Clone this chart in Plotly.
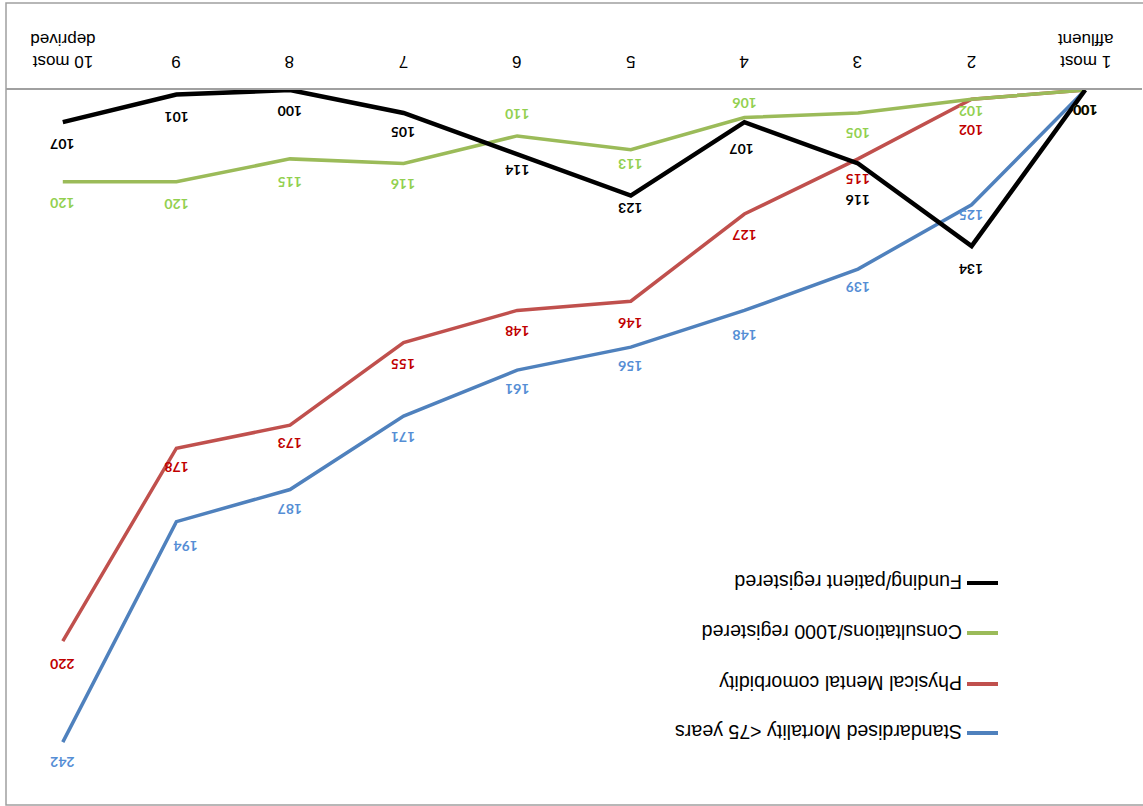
import plotly.graph_objects as go

# Deprivation deciles and indexed values (decile 1 = 100)
categories = ["1 most<br>affluent", "2", "3", "4", "5", "6", "7", "8", "9", "10 most<br>deprived"]
mortality = [100, 125, 139, 148, 156, 161, 171, 187, 194, 242]
comorbidity = [100, 102, 115, 127, 146, 148, 155, 173, 178, 220]
consultations = [100, 102, 105, 106, 113, 110, 116, 115, 120, 120]
funding = [100, 134, 116, 107, 123, 114, 105, 100, 101, 107]
series_names = [
    "Standardised Mortality <75 years",
    "Physical Mental comorbidity",
    "Consultations/1000 registered",
    "Funding/patient registered",
]

# styling: line colour, label colour, line width
line_colors = ["#4F81BD", "#C0504D", "#9BBB59", "#000000"]
label_colors = ["#558ED5", "#C00000", "#92D050", "#000000"]
line_widths = [3.5, 3.5, 3.5, 4.5]

# label offsets in pixels (dx, dy) measured downward on the flipped page
label_dy = [
    [21, 10, 19, 25, 20, 20, 22, 20, 25, 21],
    [21, 32, 20, 21, 23, 21, 22, 19, 20, 24],
    [21, 13, 20, -14, 15, -22, 21, 23, 22, 21],
    [21, 24, 37, 28, 13, 16, 19, 22, 23, 23],
]
label_dx = [
    [0, 0, 0, 0, 0, 0, 0, 0, 9, 0],
    [0] * 10,
    [0] * 10,
    [0, 0, 0, -3, 0, 0, 0, 0, 0, 0],
]

W, H = 1143, 806
ML, MR, MT, MB = 6, 1, 90, 1
PW, PH = W - ML - MR, H - MT - MB


def paper(px, py):
    return (px - ML) / PW, (H - MB - py) / PH


x_idx = list(range(len(categories)))
series = [mortality, comorbidity, consultations, funding]
fig = go.Figure()
for vals, name, col, lw in zip(series, series_names, line_colors, line_widths):
    fig.add_trace(go.Scatter(
        x=x_idx, y=vals, mode="lines", name=name,
        line=dict(color=col, width=lw), showlegend=False, hoverinfo="skip",
    ))

annotations = []
for si, vals in enumerate(series):
    for ci, v in enumerate(vals):
        annotations.append(dict(
            x=ci, y=v, xref="x", yref="y", text=str(v),
            showarrow=False, textangle=180,
            xanchor="center", yanchor="middle",
            xshift=label_dx[si][ci], yshift=-label_dy[si][ci],
            font=dict(family="Lato", size=14, color=label_colors[si], weight="bold"),
        ))

# category labels, upside down above the axis line
for ci, cat in enumerate(categories):
    two_line = "<br>" in cat
    _, ty = paper(0, 50 if two_line else 62)
    annotations.append(dict(
        x=ci, y=ty, xref="x", yref="paper", text=cat,
        showarrow=False, textangle=180, xanchor="center", yanchor="middle",
        font=dict(family="Liberation Sans", size=17, color="#000000"),
    ))

# hand-drawn legend (upside-down page)
legend_rows = [733, 684, 633, 583]
shapes = []
for name, col, row in zip(series_names, line_colors, legend_rows):
    x0, y0 = paper(967, row)
    x1, _ = paper(998, row)
    shapes.append(dict(type="line", xref="paper", yref="paper",
                       x0=x0, x1=x1, y0=y0, y1=y0,
                       line=dict(color=col, width=4)))
    tx, ty = paper(964, row - 1)
    annotations.append(dict(
        x=tx, y=ty, xref="paper", yref="paper", text=name,
        showarrow=False, textangle=180, xanchor="right", yanchor="middle",
        font=dict(family="Liberation Sans", size=19.6, color="#000000"),
    ))

# chart border
bx0, by0 = paper(6, 805)
bx1, by1 = paper(1150, 3)
shapes.append(dict(type="rect", xref="paper", yref="paper",
                   x0=bx0, x1=bx1, y0=by0, y1=by1,
                   line=dict(color="#A0A0A0", width=1.5), layer="below"))

fig.update_layout(
    width=W, height=H,
    margin=dict(l=ML, r=MR, t=MT, b=MB),
    paper_bgcolor="white", plot_bgcolor="white",
    annotations=annotations, shapes=shapes,
    xaxis=dict(
        range=[9.5, -0.5], side="top",
        showline=True, linecolor="#A0A0A0", linewidth=1.5,
        showgrid=False, zeroline=False, ticks="", showticklabels=False,
        tickvals=x_idx,
    ),
    yaxis=dict(range=[255.7, 100], visible=False, showgrid=False, zeroline=False),
)

fig.write_html("out.html")
